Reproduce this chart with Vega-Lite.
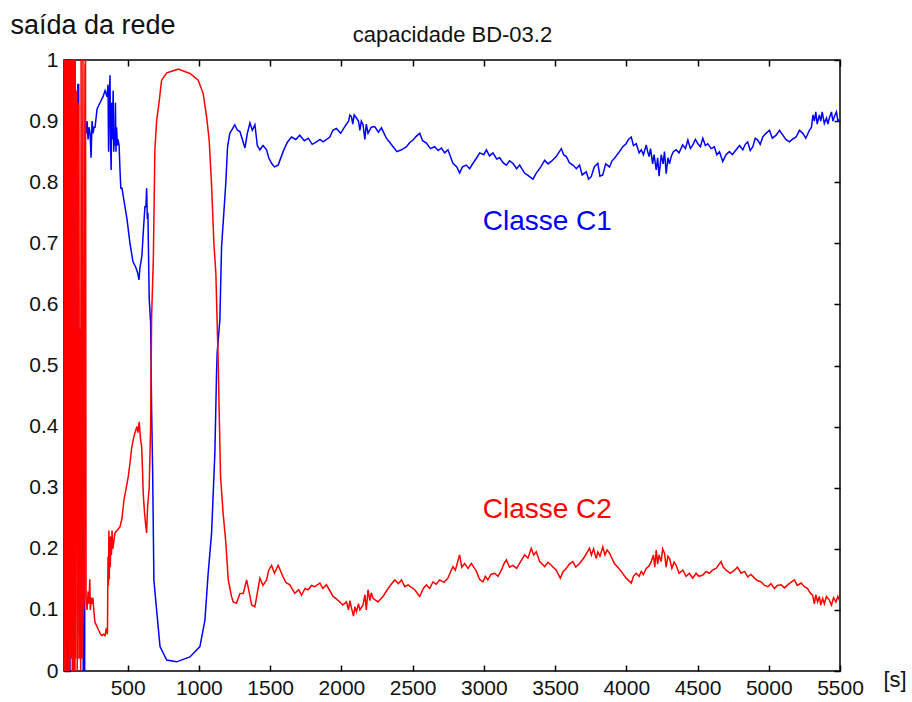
{
  "$schema": "https://vega.github.io/schema/vega-lite/v6.json",
  "width": 776,
  "height": 611,
  "autosize": {"type": "none"},
  "padding": {"left": 64, "top": 60, "right": 72, "bottom": 31},
  "background": "white",
  "config": {
    "view": {"stroke": "black", "strokeWidth": 1.5},
    "font": "Liberation Sans",
    "axis": {"grid": false, "domain": false, "tickColor": "black", "tickWidth": 1.5, "labelColor": "#111", "labelFontSize": 21, "labelFont": "Liberation Sans"}
  },
  "datasets": {
    "c2": [
      {"t":53,"v":0.49},{"t":55,"v":0.0},{"t":57,"v":1.0},{"t":60,"v":0.24},{"t":62,"v":1.0},{"t":64,"v":0.0},{"t":66,"v":1.0},{"t":68,"v":0.02},{"t":70,"v":1.0},{"t":72,"v":0.0},{"t":74,"v":0.95},{"t":76,"v":0.05},{"t":78,"v":1.0},{"t":80,"v":0.1},{"t":82,"v":0.98},{"t":84,"v":0.0},{"t":86,"v":1.0},{"t":88,"v":0.3},{"t":90,"v":1.0},{"t":92,"v":0.0},{"t":94,"v":0.9},{"t":96,"v":0.02},{"t":98,"v":1.0},{"t":100,"v":0.3},{"t":102,"v":0.98},{"t":104,"v":0.02},{"t":106,"v":0.48},{"t":108,"v":1.0},{"t":110,"v":0.02},{"t":112,"v":0.7},{"t":114,"v":0.0},{"t":116,"v":1.0},{"t":118,"v":0.05},{"t":120,"v":0.97},{"t":122,"v":0.0},{"t":124,"v":1.0},{"t":126,"v":0.1},{"t":128,"v":0.9},{"t":130,"v":0.0},{"t":132,"v":1.0},{"t":134,"v":0.02},{"t":137,"v":0.82},{"t":140,"v":0.3},{"t":143,"v":0.95},{"t":146,"v":0.0},{"t":149,"v":0.8},{"t":152,"v":0.02},{"t":155,"v":0.93},{"t":158,"v":0.1},{"t":161,"v":0.56},{"t":164,"v":0.02},{"t":167,"v":0.48},{"t":170,"v":0.0},{"t":173,"v":1.0},{"t":176,"v":0.3},{"t":180,"v":0.02},{"t":186,"v":1.0},{"t":190,"v":0.1},{"t":196,"v":0.12},{"t":200,"v":0.99},{"t":204,"v":1.0},{"t":208,"v":0.12},{"t":215,"v":0.1},{"t":222,"v":0.13},{"t":228,"v":0.11},{"t":234,"v":0.15},{"t":238,"v":0.1},{"t":244,"v":0.12},{"t":250,"v":0.11},{"t":256,"v":0.12},{"t":262,"v":0.1},{"t":270,"v":0.08},{"t":280,"v":0.075},{"t":290,"v":0.07},{"t":300,"v":0.065},{"t":310,"v":0.06},{"t":320,"v":0.058},{"t":330,"v":0.06},{"t":341,"v":0.058},{"t":350,"v":0.07},{"t":358,"v":0.06},
      {"t":362,"v":0.187},{"t":365,"v":0.14},{"t":368,"v":0.23},{"t":371,"v":0.15},{"t":374,"v":0.22},{"t":378,"v":0.17},{"t":382,"v":0.22},{"t":386,"v":0.19},{"t":390,"v":0.23},{"t":396,"v":0.2},{"t":411,"v":0.226},{"t":425,"v":0.23},{"t":446,"v":0.236},{"t":460,"v":0.25},{"t":474,"v":0.28},{"t":490,"v":0.3},{"t":504,"v":0.318},{"t":516,"v":0.34},{"t":528,"v":0.365},{"t":540,"v":0.38},{"t":551,"v":0.39},{"t":565,"v":0.4},{"t":572,"v":0.39},{"t":581,"v":0.408},{"t":590,"v":0.38},{"t":598,"v":0.367},{"t":604,"v":0.33},{"t":609,"v":0.291},{"t":618,"v":0.26},{"t":626,"v":0.24},{"t":633,"v":0.226},{"t":640,"v":0.27},{"t":651,"v":0.30},{"t":661,"v":0.40},{"t":668,"v":0.58},{"t":680,"v":0.673},{"t":691,"v":0.853},{"t":703,"v":0.90},{"t":722,"v":0.934},{"t":738,"v":0.967},{"t":774,"v":0.979},{"t":855,"v":0.985},{"t":937,"v":0.978},{"t":995,"v":0.967},{"t":1030,"v":0.945},{"t":1054,"v":0.907},{"t":1072,"v":0.869},{"t":1089,"v":0.795},{"t":1105,"v":0.70},{"t":1119,"v":0.651},{"t":1128,"v":0.57},{"t":1135,"v":0.509},{"t":1142,"v":0.427},{"t":1152,"v":0.318},{"t":1170,"v":0.258},{"t":1189,"v":0.21},{"t":1206,"v":0.149},{"t":1229,"v":0.122},
      {"t":1241,"v":0.113},{"t":1264,"v":0.111},{"t":1288,"v":0.127},{"t":1311,"v":0.127},{"t":1335,"v":0.149},{"t":1352,"v":0.13},{"t":1370,"v":0.108},{"t":1393,"v":0.105},{"t":1428,"v":0.152},{"t":1450,"v":0.14},{"t":1475,"v":0.149},{"t":1490,"v":0.165},{"t":1510,"v":0.173},{"t":1530,"v":0.16},{"t":1556,"v":0.173},{"t":1591,"v":0.154},{"t":1610,"v":0.145},{"t":1638,"v":0.141},{"t":1673,"v":0.127},{"t":1700,"v":0.133},{"t":1720,"v":0.124},{"t":1745,"v":0.135},{"t":1767,"v":0.133},{"t":1790,"v":0.14},{"t":1814,"v":0.138},{"t":1849,"v":0.144},{"t":1870,"v":0.135},{"t":1895,"v":0.141},{"t":1942,"v":0.122},{"t":1965,"v":0.118},{"t":1989,"v":0.113},{"t":2010,"v":0.108},{"t":2036,"v":0.113},{"t":2050,"v":0.1},{"t":2060,"v":0.115},{"t":2071,"v":0.103},{"t":2085,"v":0.09},{"t":2095,"v":0.105},{"t":2106,"v":0.097},{"t":2120,"v":0.11},{"t":2130,"v":0.1},{"t":2152,"v":0.108},{"t":2165,"v":0.125},{"t":2175,"v":0.1},{"t":2187,"v":0.133},{"t":2200,"v":0.115},{"t":2210,"v":0.128},{"t":2222,"v":0.119},{"t":2257,"v":0.113},{"t":2292,"v":0.122},{"t":2328,"v":0.135},{"t":2350,"v":0.142},{"t":2375,"v":0.149},{"t":2400,"v":0.143},{"t":2422,"v":0.149},{"t":2445,"v":0.138},{"t":2468,"v":0.141},{"t":2515,"v":0.133},{"t":2550,"v":0.122},{"t":2575,"v":0.135},{"t":2597,"v":0.141},{"t":2620,"v":0.135},{"t":2643,"v":0.146},{"t":2665,"v":0.142},{"t":2690,"v":0.149},{"t":2720,"v":0.145},{"t":2748,"v":0.152},{"t":2783,"v":0.171},{"t":2800,"v":0.165},{"t":2830,"v":0.19},{"t":2845,"v":0.17},{"t":2865,"v":0.176},{"t":2890,"v":0.168},{"t":2912,"v":0.176},{"t":2948,"v":0.163},{"t":2970,"v":0.15},{"t":2994,"v":0.146},{"t":3010,"v":0.155},{"t":3028,"v":0.149},{"t":3050,"v":0.158},{"t":3076,"v":0.16},{"t":3100,"v":0.155},{"t":3123,"v":0.165},{"t":3140,"v":0.175},{"t":3158,"v":0.182},{"t":3180,"v":0.17},{"t":3204,"v":0.173},{"t":3230,"v":0.168},{"t":3251,"v":0.176},{"t":3286,"v":0.19},{"t":3310,"v":0.185},{"t":3333,"v":0.201},{"t":3350,"v":0.19},{"t":3368,"v":0.195},{"t":3392,"v":0.179},{"t":3427,"v":0.171},{"t":3450,"v":0.178},{"t":3473,"v":0.173},{"t":3508,"v":0.165},{"t":3537,"v":0.152},{"t":3555,"v":0.162},{"t":3579,"v":0.168},{"t":3600,"v":0.175},{"t":3625,"v":0.179},{"t":3645,"v":0.17},{"t":3672,"v":0.176},{"t":3707,"v":0.187},{"t":3742,"v":0.201},{"t":3755,"v":0.19},{"t":3770,"v":0.2},{"t":3789,"v":0.184},{"t":3800,"v":0.195},{"t":3815,"v":0.188},{"t":3835,"v":0.203},{"t":3850,"v":0.19},{"t":3865,"v":0.198},{"t":3882,"v":0.193},{"t":3917,"v":0.176},{"t":3940,"v":0.17},{"t":3964,"v":0.163},{"t":3999,"v":0.152},{"t":4035,"v":0.144},{"t":4050,"v":0.155},{"t":4070,"v":0.16},{"t":4090,"v":0.155},{"t":4105,"v":0.163},{"t":4120,"v":0.158},{"t":4140,"v":0.168},{"t":4160,"v":0.172},{"t":4175,"v":0.179},{"t":4190,"v":0.19},{"t":4200,"v":0.17},{"t":4210,"v":0.198},{"t":4220,"v":0.175},{"t":4230,"v":0.19},{"t":4245,"v":0.179},{"t":4255,"v":0.2},{"t":4268,"v":0.193},{"t":4280,"v":0.17},{"t":4292,"v":0.188},{"t":4304,"v":0.184},{"t":4320,"v":0.168},{"t":4335,"v":0.178},{"t":4350,"v":0.173},{"t":4370,"v":0.16},{"t":4396,"v":0.165},{"t":4420,"v":0.155},{"t":4443,"v":0.16},{"t":4465,"v":0.152},{"t":4490,"v":0.16},{"t":4510,"v":0.155},{"t":4537,"v":0.157},{"t":4560,"v":0.163},{"t":4583,"v":0.16},{"t":4605,"v":0.165},{"t":4630,"v":0.168},{"t":4665,"v":0.179},{"t":4680,"v":0.17},{"t":4701,"v":0.165},{"t":4730,"v":0.16},{"t":4759,"v":0.165},{"t":4780,"v":0.17},{"t":4806,"v":0.16},{"t":4830,"v":0.163},{"t":4852,"v":0.154},{"t":4875,"v":0.158},{"t":4900,"v":0.152},{"t":4920,"v":0.148},{"t":4946,"v":0.146},{"t":4970,"v":0.14},{"t":4993,"v":0.138},{"t":5015,"v":0.143},{"t":5040,"v":0.135},{"t":5060,"v":0.14},{"t":5087,"v":0.141},{"t":5110,"v":0.136},{"t":5133,"v":0.141},{"t":5155,"v":0.145},{"t":5180,"v":0.149},{"t":5200,"v":0.14},{"t":5227,"v":0.144},{"t":5250,"v":0.138},{"t":5273,"v":0.135},{"t":5290,"v":0.128},{"t":5308,"v":0.124},{"t":5320,"v":0.11},{"t":5330,"v":0.125},{"t":5343,"v":0.113},{"t":5355,"v":0.122},{"t":5365,"v":0.108},{"t":5378,"v":0.119},{"t":5390,"v":0.11},{"t":5405,"v":0.122},{"t":5425,"v":0.116},{"t":5440,"v":0.108},{"t":5455,"v":0.12},{"t":5471,"v":0.113},{"t":5485,"v":0.122},{"t":5495,"v":0.116}
    ],
    "c1": [
      {"t":53,"v":0.52},{"t":55,"v":1.0},{"t":62,"v":1.0},{"t":64,"v":0.76},{"t":66,"v":1.0},{"t":70,"v":1.0},{"t":74,"v":0.0},{"t":80,"v":0.0},{"t":84,"v":0.25},{"t":88,"v":0.0},{"t":95,"v":0.0},{"t":100,"v":1.0},{"t":108,"v":1.0},{"t":112,"v":0.0},{"t":118,"v":0.0},{"t":122,"v":0.75},{"t":128,"v":0.78},{"t":132,"v":0.57},{"t":136,"v":0.78},{"t":140,"v":0.73},{"t":146,"v":0.88},{"t":150,"v":0.96},{"t":156,"v":0.96},{"t":160,"v":0.06},{"t":166,"v":0.06},{"t":170,"v":0.3},{"t":176,"v":0.1},{"t":182,"v":0.4},{"t":188,"v":0.0},{"t":198,"v":0.0},
      {"t":202,"v":0.9},{"t":208,"v":0.88},{"t":215,"v":0.9},{"t":222,"v":0.87},{"t":229,"v":0.89},{"t":236,"v":0.88},{"t":243,"v":0.84},{"t":250,"v":0.9},{"t":257,"v":0.88},{"t":264,"v":0.89},{"t":271,"v":0.89},{"t":285,"v":0.92},{"t":306,"v":0.93},{"t":327,"v":0.94},{"t":341,"v":0.95},{"t":355,"v":0.94},{"t":362,"v":0.96},{"t":366,"v":0.85},{"t":370,"v":0.93},{"t":376,"v":0.975},{"t":380,"v":0.86},{"t":384,"v":0.82},{"t":388,"v":0.93},{"t":392,"v":0.87},{"t":398,"v":0.95},{"t":402,"v":0.85},{"t":406,"v":0.88},{"t":410,"v":0.86},{"t":414,"v":0.93},{"t":418,"v":0.85},{"t":422,"v":0.89},{"t":428,"v":0.86},{"t":432,"v":0.87},{"t":440,"v":0.86},{"t":446,"v":0.82},{"t":452,"v":0.79},{"t":460,"v":0.79},{"t":474,"v":0.77},{"t":495,"v":0.74},{"t":516,"v":0.70},{"t":537,"v":0.67},{"t":558,"v":0.66},{"t":572,"v":0.65},{"t":579,"v":0.64},{"t":586,"v":0.66},{"t":593,"v":0.67},{"t":600,"v":0.68},{"t":610,"v":0.72},{"t":621,"v":0.76},{"t":628,"v":0.76},{"t":633,"v":0.79},{"t":638,"v":0.74},{"t":642,"v":0.75},{"t":651,"v":0.61},{"t":661,"v":0.57},{"t":668,"v":0.427},{"t":675,"v":0.33},{"t":684,"v":0.149},{"t":703,"v":0.10},{"t":727,"v":0.04},{"t":774,"v":0.018},{"t":844,"v":0.015},{"t":937,"v":0.023},{"t":1007,"v":0.04},{"t":1042,"v":0.083},{"t":1065,"v":0.16},{"t":1089,"v":0.226},{"t":1112,"v":0.357},{"t":1124,"v":0.49},{"t":1128,"v":0.52},{"t":1147,"v":0.574},{"t":1159,"v":0.694},{"t":1175,"v":0.75},{"t":1189,"v":0.80},{"t":1201,"v":0.858},{"t":1217,"v":0.88},{"t":1252,"v":0.894},{"t":1270,"v":0.885},{"t":1288,"v":0.883},{"t":1305,"v":0.87},{"t":1323,"v":0.856},{"t":1340,"v":0.88},{"t":1358,"v":0.897},{"t":1375,"v":0.885},{"t":1393,"v":0.894},{"t":1410,"v":0.86},{"t":1428,"v":0.853},{"t":1450,"v":0.86},{"t":1475,"v":0.853},{"t":1490,"v":0.84},{"t":1510,"v":0.831},{"t":1530,"v":0.825},{"t":1556,"v":0.828},{"t":1591,"v":0.85},{"t":1620,"v":0.865},{"t":1650,"v":0.874},{"t":1680,"v":0.87},{"t":1708,"v":0.877},{"t":1740,"v":0.868},{"t":1767,"v":0.872},{"t":1795,"v":0.862},{"t":1825,"v":0.866},{"t":1850,"v":0.87},{"t":1872,"v":0.866},{"t":1919,"v":0.874},{"t":1940,"v":0.885},{"t":1965,"v":0.888},{"t":1995,"v":0.88},{"t":2024,"v":0.891},{"t":2050,"v":0.9},{"t":2060,"v":0.91},{"t":2071,"v":0.907},{"t":2080,"v":0.895},{"t":2090,"v":0.91},{"t":2106,"v":0.905},{"t":2120,"v":0.9},{"t":2130,"v":0.885},{"t":2140,"v":0.9},{"t":2152,"v":0.894},{"t":2165,"v":0.87},{"t":2175,"v":0.895},{"t":2187,"v":0.88},{"t":2210,"v":0.89},{"t":2234,"v":0.891},{"t":2260,"v":0.882},{"t":2281,"v":0.889},{"t":2316,"v":0.872},{"t":2340,"v":0.865},{"t":2363,"v":0.858},{"t":2390,"v":0.85},{"t":2422,"v":0.853},{"t":2457,"v":0.858},{"t":2480,"v":0.865},{"t":2503,"v":0.869},{"t":2525,"v":0.875},{"t":2550,"v":0.88},{"t":2570,"v":0.868},{"t":2597,"v":0.864},{"t":2625,"v":0.855},{"t":2655,"v":0.858},{"t":2680,"v":0.852},{"t":2702,"v":0.856},{"t":2725,"v":0.848},{"t":2748,"v":0.853},{"t":2783,"v":0.831},{"t":2810,"v":0.825},{"t":2830,"v":0.815},{"t":2850,"v":0.825},{"t":2877,"v":0.828},{"t":2900,"v":0.822},{"t":2924,"v":0.831},{"t":2950,"v":0.84},{"t":2971,"v":0.848},{"t":3000,"v":0.845},{"t":3018,"v":0.853},{"t":3040,"v":0.843},{"t":3064,"v":0.848},{"t":3090,"v":0.838},{"t":3111,"v":0.84},{"t":3135,"v":0.832},{"t":3158,"v":0.828},{"t":3180,"v":0.835},{"t":3204,"v":0.831},{"t":3230,"v":0.822},{"t":3251,"v":0.828},{"t":3286,"v":0.815},{"t":3305,"v":0.812},{"t":3321,"v":0.809},{"t":3345,"v":0.805},{"t":3368,"v":0.815},{"t":3400,"v":0.825},{"t":3427,"v":0.836},{"t":3450,"v":0.83},{"t":3473,"v":0.834},{"t":3508,"v":0.842},{"t":3544,"v":0.855},{"t":3560,"v":0.845},{"t":3579,"v":0.842},{"t":3600,"v":0.832},{"t":3625,"v":0.828},{"t":3650,"v":0.822},{"t":3672,"v":0.828},{"t":3690,"v":0.812},{"t":3719,"v":0.817},{"t":3735,"v":0.805},{"t":3754,"v":0.809},{"t":3775,"v":0.825},{"t":3800,"v":0.831},{"t":3815,"v":0.81},{"t":3835,"v":0.812},{"t":3855,"v":0.83},{"t":3882,"v":0.825},{"t":3900,"v":0.835},{"t":3917,"v":0.839},{"t":3935,"v":0.845},{"t":3952,"v":0.85},{"t":3975,"v":0.858},{"t":3999,"v":0.863},{"t":4015,"v":0.87},{"t":4035,"v":0.874},{"t":4050,"v":0.86},{"t":4070,"v":0.863},{"t":4090,"v":0.848},{"t":4105,"v":0.853},{"t":4120,"v":0.845},{"t":4140,"v":0.861},{"t":4150,"v":0.85},{"t":4160,"v":0.842},{"t":4170,"v":0.855},{"t":4185,"v":0.83},{"t":4195,"v":0.845},{"t":4210,"v":0.82},{"t":4220,"v":0.84},{"t":4230,"v":0.81},{"t":4245,"v":0.845},{"t":4258,"v":0.83},{"t":4268,"v":0.85},{"t":4280,"v":0.814},{"t":4292,"v":0.84},{"t":4303,"v":0.83},{"t":4315,"v":0.842},{"t":4330,"v":0.85},{"t":4350,"v":0.853},{"t":4370,"v":0.848},{"t":4396,"v":0.861},{"t":4415,"v":0.855},{"t":4432,"v":0.869},{"t":4450,"v":0.855},{"t":4467,"v":0.861},{"t":4485,"v":0.87},{"t":4502,"v":0.863},{"t":4520,"v":0.858},{"t":4537,"v":0.872},{"t":4555,"v":0.86},{"t":4572,"v":0.863},{"t":4595,"v":0.855},{"t":4618,"v":0.858},{"t":4635,"v":0.845},{"t":4654,"v":0.85},{"t":4677,"v":0.834},{"t":4700,"v":0.845},{"t":4724,"v":0.85},{"t":4745,"v":0.845},{"t":4771,"v":0.853},{"t":4795,"v":0.86},{"t":4818,"v":0.853},{"t":4835,"v":0.862},{"t":4852,"v":0.866},{"t":4870,"v":0.852},{"t":4888,"v":0.858},{"t":4905,"v":0.872},{"t":4923,"v":0.869},{"t":4940,"v":0.862},{"t":4958,"v":0.874},{"t":4980,"v":0.88},{"t":5005,"v":0.885},{"t":5025,"v":0.872},{"t":5052,"v":0.877},{"t":5075,"v":0.885},{"t":5099,"v":0.877},{"t":5120,"v":0.87},{"t":5145,"v":0.866},{"t":5165,"v":0.87},{"t":5192,"v":0.874},{"t":5215,"v":0.885},{"t":5239,"v":0.88},{"t":5260,"v":0.872},{"t":5285,"v":0.885},{"t":5300,"v":0.89},{"t":5310,"v":0.91},{"t":5320,"v":0.9},{"t":5330,"v":0.915},{"t":5340,"v":0.895},{"t":5355,"v":0.91},{"t":5365,"v":0.9},{"t":5375,"v":0.915},{"t":5390,"v":0.896},{"t":5405,"v":0.905},{"t":5415,"v":0.895},{"t":5425,"v":0.905},{"t":5440,"v":0.915},{"t":5450,"v":0.9},{"t":5460,"v":0.907},{"t":5475,"v":0.915},{"t":5485,"v":0.9},{"t":5495,"v":0.902}
    ],
    "labels": [
      {"t": 2992, "v": 0.735, "label": "Classe C1"},
      {"t": 2992, "v": 0.263, "label": "Classe C2"}
    ]
  },
  "layer": [
    {
      "data": {"name": "c1"},
      "mark": {"type": "line", "color": "#0000ff", "strokeWidth": 1.5, "clip": true},
      "encoding": {
        "x": {"field": "t", "type": "quantitative", "scale": {"domain": [53, 5500], "nice": false, "zero": false},
          "axis": {"orient": "bottom", "values": [500,1000,1500,2000,2500,3000,3500,4000,4500,5000,5500], "format": "d", "tickSize": -6, "labelPadding": 12, "labelFlush": false, "labelOverlap": false, "title": "[s]", "titleFontSize": 22, "titleFontWeight": "normal", "titleColor": "#111", "titleX": 819, "titleY": 8, "titleAlign": "left", "titleBaseline": "middle", "titleFont": "Liberation Sans"}},
        "y": {"field": "v", "type": "quantitative", "scale": {"domain": [0, 1], "nice": false},
          "axis": {"orient": "left", "values": [0,0.1,0.2,0.3,0.4,0.5,0.6,0.7,0.8,0.9,1], "format": "~g", "tickSize": -6, "labelPadding": 12, "labelFlush": false, "labelOverlap": false, "title": "saída da rede", "titleAngle": 0, "titleFontSize": 27, "titleFontWeight": "normal", "titleColor": "#111", "titleX": -54, "titleY": -27, "titleAlign": "left", "titleBaseline": "alphabetic", "titleFont": "Liberation Sans"}}
      }
    },
    {
      "data": {"name": "c2"},
      "mark": {"type": "line", "color": "#ff0000", "strokeWidth": 1.5, "clip": true},
      "encoding": {
        "x": {"field": "t", "type": "quantitative",
          "axis": {"orient": "top", "values": [500,1000,1500,2000,2500,3000,3500,4000,4500,5000,5500], "tickSize": -6, "labels": false, "title": "capacidade BD-03.2", "titleFontSize": 22, "titleFontWeight": "normal", "titleColor": "#111", "titleX": 388, "titleY": -19, "titleAlign": "center", "titleBaseline": "alphabetic", "titleFont": "Liberation Sans"}},
        "y": {"field": "v", "type": "quantitative",
          "axis": {"orient": "right", "values": [0,0.1,0.2,0.3,0.4,0.5,0.6,0.7,0.8,0.9,1], "tickSize": -6, "labels": false, "title": null}}
      }
    },
    {
      "data": {"name": "labels"},
      "mark": {"type": "text", "align": "left", "baseline": "middle", "fontSize": 28, "font": "Liberation Sans"},
      "encoding": {
        "x": {"field": "t", "type": "quantitative", "axis": null},
        "y": {"field": "v", "type": "quantitative", "axis": null},
        "text": {"field": "label"},
        "color": {"field": "label", "type": "nominal", "scale": {"domain": ["Classe C1", "Classe C2"], "range": ["#0000ff", "#ff0000"]}, "legend": null}
      }
    }
  ],
  "resolve": {"axis": {"x": "independent", "y": "independent"}}
}
